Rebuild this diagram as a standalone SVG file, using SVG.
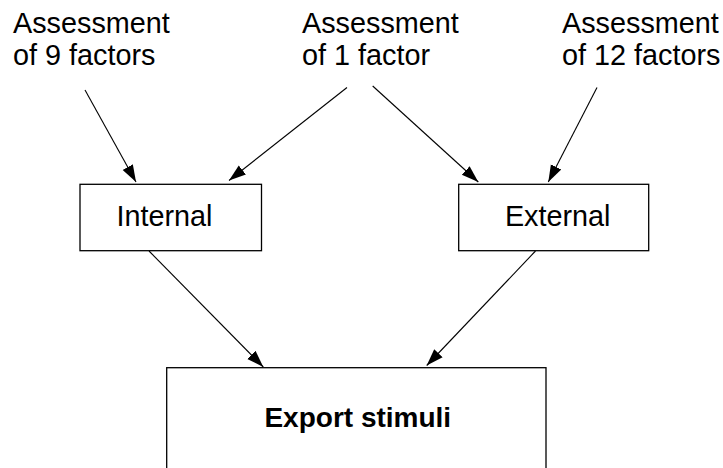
<svg xmlns="http://www.w3.org/2000/svg" width="723" height="468" viewBox="0 0 723 468">
  <style>
    .box { fill: #ffffff; stroke: #000000; stroke-width: 1.3; }
    .lbl { font-family: "Liberation Sans", Arial, sans-serif; font-size: 28.8px; fill: #000000; }
    .bold { font-weight: bold; font-size: 28px; }
    .edge { stroke: #000000; stroke-width: 1.1; fill: none; marker-end: url(#arrow); }
  </style>
  <defs>
    <marker id="arrow" markerUnits="userSpaceOnUse" markerWidth="18" markerHeight="14" viewBox="0 0 18 14" refX="17" refY="7" orient="auto">
      <path d="M0,1.2 L17,7 L0,12.8 Z" fill="#000000"/>
    </marker>
  </defs>
  <rect width="723" height="468" fill="#ffffff"/>

  <!-- factor assessment labels -->
  <g id="assess-9">
    <text class="lbl" x="13" y="33">Assessment</text>
    <text class="lbl" x="13" y="65">of 9 factors</text>
  </g>
  <g id="assess-1">
    <text class="lbl" x="302" y="33">Assessment</text>
    <text class="lbl" x="302" y="65">of 1 factor</text>
  </g>
  <g id="assess-12">
    <text class="lbl" x="562" y="33">Assessment</text>
    <text class="lbl" x="562" y="65">of 12 factors</text>
  </g>

  <!-- stimulus categories -->
  <g id="internal">
    <rect class="box" x="80" y="184.3" width="181.5" height="66.4"/>
    <text class="lbl" x="164.5" y="226" text-anchor="middle">Internal</text>
  </g>
  <g id="external">
    <rect class="box" x="458.7" y="184.3" width="190" height="66.4"/>
    <text class="lbl" x="557.7" y="226" text-anchor="middle">External</text>
  </g>
  <g id="export-stimuli">
    <rect class="box" x="166.7" y="367.7" width="379.3" height="110"/>
    <text class="lbl bold" x="357.8" y="426.7" text-anchor="middle">Export stimuli</text>
  </g>

  <!-- connectors -->
  <g id="connectors">
    <line class="edge" x1="85" y1="90" x2="136" y2="182"/>
    <line class="edge" x1="347" y1="87.5" x2="229" y2="180.5"/>
    <line class="edge" x1="372.7" y1="86" x2="478.3" y2="182"/>
    <line class="edge" x1="597" y1="87.5" x2="548.3" y2="182"/>
    <line class="edge" x1="149" y1="251" x2="263.3" y2="367"/>
    <line class="edge" x1="535.5" y1="251" x2="426.7" y2="365.5"/>
  </g>
</svg>
